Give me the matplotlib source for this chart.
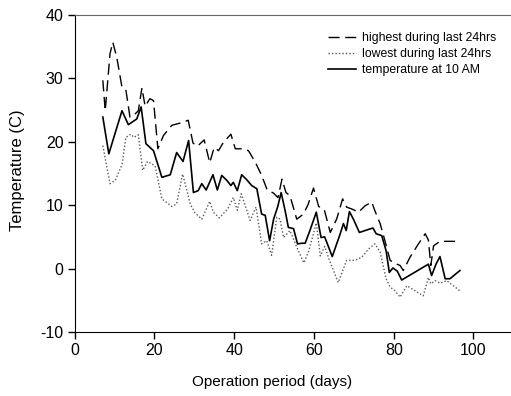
import matplotlib
matplotlib.use("Agg")
import matplotlib.pyplot as plt

plt.rcParams["font.family"] = ["Liberation Sans", "DejaVu Sans"]
plt.rcParams["axes.unicode_minus"] = False

# highest during last 24 hrs
high_days = [7.1, 7.7, 8.9, 9.6, 10.6, 11.9, 12.9, 13.9, 15.2, 16.0, 16.9, 17.7,
             18.9, 19.8, 20.9, 22.3, 24.4, 27.3, 28.5, 29.7, 30.8, 32.5, 33.9,
             35.0, 36.1, 37.3, 39.2, 40.3, 41.9, 43.6, 45.3, 46.9, 48.3, 49.9,
             51.0, 52.0, 53.0, 54.0, 55.7, 57.4, 58.6, 59.9, 61.2, 62.6, 64.1,
             65.7, 67.2, 68.2, 69.5, 71.2, 72.8, 74.5, 75.3, 76.6, 77.8, 79.1,
             80.4, 81.6, 82.4, 84.1, 86.2, 87.9, 88.7, 89.3, 90.0, 91.6, 96.6]
high_temp = [29.7, 24.9, 33.9, 35.7, 33.3, 28.6, 28.1, 23.9, 24.4, 24.9, 28.5, 25.6,
             26.8, 26.5, 18.9, 21.0, 22.6, 23.1, 23.4, 19.8, 19.3, 20.3, 16.7,
             19.1, 18.6, 19.9, 21.2, 18.9, 18.9, 18.6, 16.8, 14.7, 12.4, 11.9,
             11.2, 14.1, 12.0, 11.5, 7.8, 8.6, 10.2, 12.7, 9.8, 9.3, 5.7,
             7.8, 11.0, 9.7, 9.4, 8.9, 9.9, 10.5, 9.1, 7.1, 4.4, 1.3,
             0.8, 0.5, -0.3, 1.8, 3.9, 5.5, 4.5, 0.5, 3.6, 4.3, 4.3]

# lowest during last 24 hrs
low_days = [7.1, 8.1, 8.9, 10.2, 11.9, 12.9, 14.1, 14.9, 16.0, 17.1, 18.3, 20.2,
            21.9, 24.4, 25.6, 27.1, 28.1, 29.0, 30.2, 31.9, 33.9, 34.8, 36.3,
            38.4, 39.8, 40.8, 41.8, 42.8, 44.0, 45.5, 46.9, 48.2, 49.4, 50.7,
            51.5, 52.4, 54.0, 55.7, 57.5, 58.6, 59.2, 60.6, 61.6, 62.7, 63.9,
            66.1, 68.2, 70.3, 72.0, 73.7, 75.3, 76.6, 78.1, 79.1, 80.3, 81.6,
            83.3, 85.4, 87.4, 88.7, 89.3, 90.4, 91.6, 93.3, 96.6]
low_temp = [19.4, 16.0, 13.4, 13.9, 16.4, 20.7, 21.2, 20.7, 21.1, 15.5, 16.9, 16.2,
            11.0, 9.8, 10.2, 14.9, 12.5, 10.2, 8.8, 7.8, 10.6, 8.9, 8.0,
            9.4, 11.2, 9.2, 11.8, 9.9, 7.6, 9.7, 3.9, 4.4, 2.1, 8.1,
            7.8, 4.9, 6.0, 3.4, 0.9, 2.6, 3.9, 7.2, 2.0, 3.5, 1.3,
            -2.2, 1.3, 1.3, 1.8, 3.1, 3.9, 2.6, -1.6, -2.9, -3.5, -4.5,
            -2.7, -3.5, -4.3, -1.4, -2.4, -1.9, -2.3, -1.9, -3.5]

# temperature at 10 AM
am_days = [7.1, 8.6, 11.9, 13.5, 15.6, 16.7, 17.9, 19.8, 21.9, 24.0, 25.6, 27.2,
           28.6, 29.8, 31.0, 31.9, 33.0, 34.7, 35.8, 36.9, 38.2, 39.2, 39.8,
           40.8, 41.9, 43.2, 44.4, 45.7, 46.9, 47.8, 48.9, 49.9, 50.9, 51.8,
           52.8, 53.6, 54.9, 55.9, 57.0, 57.8, 59.0, 60.6, 61.8, 62.7, 64.6,
           66.6, 67.4, 68.1, 68.9, 69.9, 71.4, 73.3, 74.8, 75.6, 77.0, 78.1,
           78.9, 79.8, 80.9, 82.0, 88.7, 89.5, 90.6, 91.6, 92.9, 94.1, 96.6]
am_temp = [23.9, 18.1, 24.9, 22.7, 23.6, 25.5, 19.7, 18.6, 14.4, 14.8, 18.3, 16.9,
           20.2, 12.0, 12.3, 13.4, 12.4, 14.8, 12.4, 14.7, 13.9, 13.1, 13.6,
           12.3, 14.8, 14.0, 13.1, 12.6, 8.6, 8.4, 4.4, 7.8, 9.7, 12.0,
           9.1, 6.5, 6.3, 3.9, 4.0, 4.0, 6.0, 8.9, 4.9, 5.0, 1.9,
           5.5, 7.1, 6.0, 9.0, 7.8, 5.7, 6.1, 6.4, 5.5, 5.2, 2.8,
           -0.6, 0.1, -0.4, -1.8, 0.7, -1.1, 0.7, 1.9, -1.6, -1.6, -0.3]

W, H = 511, 396
fig = plt.figure(figsize=(W / 100, H / 100), dpi=100)
ax = fig.add_axes([74.5 / W, 64 / H, 436.5 / W, 317 / H])

ax.plot(high_days, high_temp, color="black", lw=1.0, ls=(0, (8, 4)),
        label="highest during last 24hrs")
ax.plot(low_days, low_temp, color="0.35", lw=1.0, ls=(0, (1, 1.5)),
        label="lowest during last 24hrs")
ax.plot(am_days, am_temp, color="black", lw=1.2,
        label="temperature at 10 AM")

ax.set_xlim(0, 109.4)
ax.set_ylim(-10, 40)
ax.set_xticks([0, 20, 40, 60, 80, 100])
ax.set_yticks([-10, 0, 10, 20, 30, 40])
ax.tick_params(direction="out", length=5, width=1, labelsize=11.5, pad=3)
ax.spines["right"].set_visible(False)
ax.spines["top"].set_color("0.4")

# labels placed like the original (x label centred under 0-100 span)
fig.text(272 / W, 1 - 382 / H, "Operation period (days)", fontsize=11,
         ha="center", va="center")
fig.text(18 / W, 1 - 170 / H, "Temperature (C)", fontsize=12, rotation=90,
         ha="center", va="center")

ax.legend(loc="upper left", bbox_to_anchor=(328 / W, 1 - 32 / H),
          bbox_transform=fig.transFigure, frameon=False, borderpad=0,
          borderaxespad=0, fontsize=8.8, handlelength=2.3, handletextpad=0.5,
          labelspacing=0.32)

fig.savefig("out.png", dpi=100)
